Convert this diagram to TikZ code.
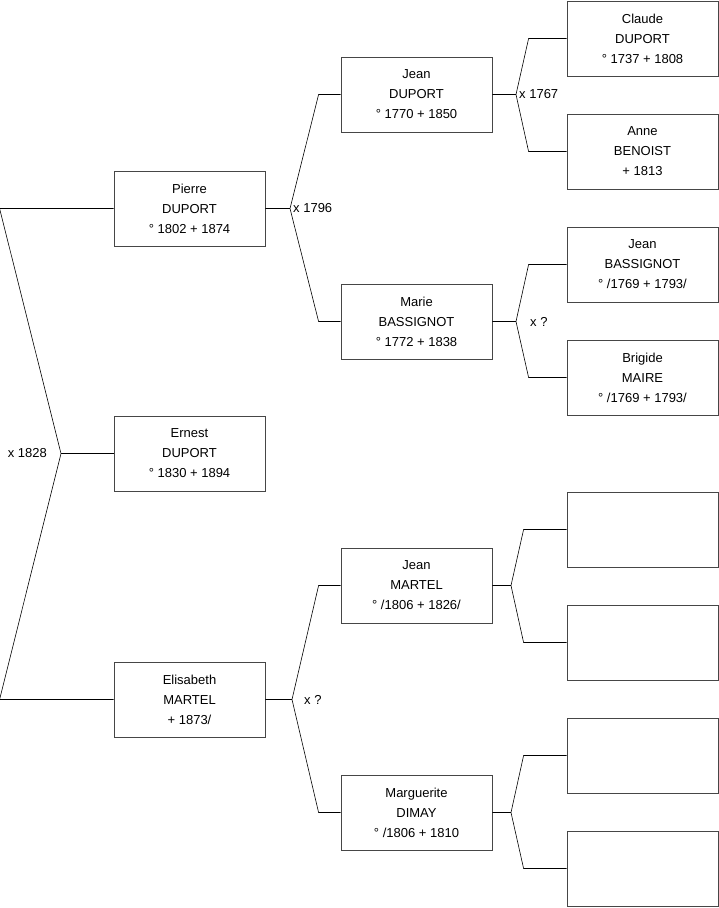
\documentclass[tikz,border=0pt]{standalone}
\usepackage{fontspec}
\setmainfont{Liberation Sans}
\usetikzlibrary{positioning}
\definecolor{frame}{RGB}{70,70,70}

\begin{document}
\begin{tikzpicture}[x=1pt,y=-1pt,
    person/.style={draw=frame,line width=0.8pt,fill=white,
                minimum width=151pt,minimum height=75pt,inner sep=0pt,
                font=\fontsize{13}{20}\selectfont,align=center},
    link/.style={draw=black,line width=0.6pt},
    union/.style={font=\fontsize{13}{15}\selectfont,inner sep=1pt}]
    \useasboundingbox (0,0) rectangle (719,908);
    % generation 1
    \node[person] (pierre)    at (189.5,208.5) {Pierre\\DUPORT\\° 1802 + 1874};
    \node[person] (ernest)    at (189.5,453.5) {Ernest\\DUPORT\\° 1830 + 1894};
    \node[person] (elisabeth) at (189.5,699.5) {Elisabeth\\MARTEL\\+ 1873/};
    % generation 2
    \node[person] (jeanD)      at (416.5,94.5)  {Jean\\DUPORT\\° 1770 + 1850};
    \node[person] (marie)      at (416.5,321.5) {Marie\\BASSIGNOT\\° 1772 + 1838};
    \node[person] (jeanM)      at (416.5,585.5) {Jean\\MARTEL\\° /1806 + 1826/};
    \node[person] (marguerite) at (416.5,812.5) {Marguerite\\DIMAY\\° /1806 + 1810};
    % generation 3
    \node[person] (claude)  at (642.5,38.5)  {Claude\\DUPORT\\° 1737 + 1808};
    \node[person] (anne)    at (642.5,151.5) {Anne\\BENOIST\\+ 1813};
    \node[person] (jeanB)   at (642.5,264.5) {Jean\\BASSIGNOT\\° /1769 + 1793/};
    \node[person] (brigide) at (642.5,377.5) {Brigide\\MAIRE\\° /1769 + 1793/};
    \node[person] (e1) at (642.5,529.5) {};
    \node[person] (e2) at (642.5,642.5) {};
    \node[person] (e3) at (642.5,755.5) {};
    \node[person] (e4) at (642.5,868.5) {};
    % forks
    \coordinate (f0) at (61,453.5);
    \coordinate (f1) at (290,208.5);
    \coordinate (f2) at (516,94.5);
    \coordinate (f3) at (516,321.5);
    \coordinate (f4) at (292,699.5);
    \coordinate (f5) at (511,585.5);
    \coordinate (f6) at (511,812.5);
    \draw[link] (pierre.west) -- ([xshift=-114pt]pierre.west) -- (f0)
      -- ([xshift=-114pt]elisabeth.west) -- (elisabeth.west);
    \draw[link] (f0) -- (ernest.west);
    \foreach \p/\f/\u/\d/\g in {pierre/f1/jeanD/marie/22pt,jeanD/f2/claude/anne/38pt,
        marie/f3/jeanB/brigide/38pt,elisabeth/f4/jeanM/marguerite/22pt,
        jeanM/f5/e1/e2/43pt,marguerite/f6/e3/e4/43pt}
      \draw[link] (\p.east) -- (\f)
        (\u.west) -- ([xshift=-\g]\u.west) -- (\f) -- ([xshift=-\g]\d.west) -- (\d.west);
    % marriages
    \node[union,left=13pt of f0,anchor=east] {x 1828};
    \node[union,right=2pt of f1,anchor=west] {x 1796};
    \node[union,right=2pt of f2,anchor=west] {x 1767};
    \node[union,right=13pt of f3,anchor=west] {x ?};
    \node[union,right=11pt of f4,anchor=west] {x ?};
  \end{tikzpicture}
\end{document}
